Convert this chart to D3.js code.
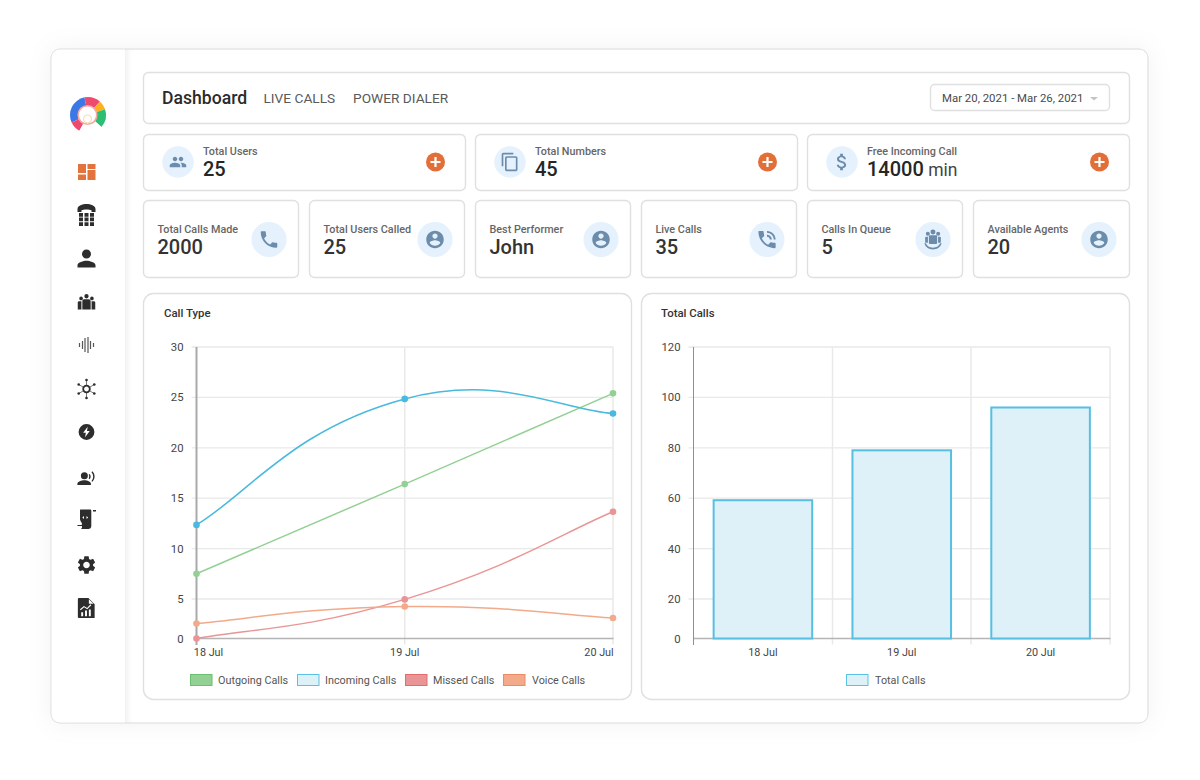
<!DOCTYPE html>
<html><head><meta charset="utf-8">
<script src="https://cdn.jsdelivr.net/npm/d3@7/dist/d3.min.js"></script>
<style>
html,body{margin:0;padding:0;background:#fff}
svg{display:block}
text{font-family:Roboto,sans-serif}
</style></head><body><svg id="c" width="1200" height="780"></svg>
<script>
// ---- data ----
const days = ["18 Jul","19 Jul","20 Jul"];
const outgoing = [7.5,16.4,25.4];
const incoming = [12.35,24.85,23.4];
const missed = [0,4.95,13.65];
const voice = [1.9,4.05,2.6];
const totalCalls = [59.2,79,96];
const leftTicks = [0,5,10,15,20,25,30];
const rightTicks = [0,20,40,60,80,100,120];
const lineNames = ["Outgoing Calls","Incoming Calls","Missed Calls","Voice Calls"];
const topCardLabels = ["Total Users","Total Numbers","Free Incoming Call"];
const topCardValues = ["25","45","14000"];
const smallCardLabels = ["Total Calls Made","Total Users Called","Best Performer","Live Calls","Calls In Queue","Available Agents"];
const smallCardValues = ["2000","25","John","35","5","20"];

const P = {
 people:"M16 11c1.66 0 2.99-1.34 2.99-3S17.66 5 16 5c-1.66 0-3 1.34-3 3s1.34 3 3 3zm-8 0c1.66 0 2.99-1.34 2.99-3S9.66 5 8 5C6.34 5 5 6.34 5 8s1.34 3 3 3zm0 2c-2.33 0-7 1.17-7 3.5V19h14v-2.5c0-2.33-4.67-3.5-7-3.5zm8 0c-.29 0-.62.02-.97.05 1.16.84 1.97 1.97 1.97 3.45V19h6v-2.5c0-2.33-4.67-3.5-7-3.5z",
 copy:"M16 1H4c-1.1 0-2 .9-2 2v14h2V3h12V1zm3 4H8c-1.1 0-2 .9-2 2v14c0 1.1.9 2 2 2h11c1.1 0 2-.9 2-2V7c0-1.1-.9-2-2-2zm0 16H8V7h11v14z",
 money:"M11.8 10.9c-2.27-.59-3-1.2-3-2.15 0-1.09 1.01-1.85 2.7-1.85 1.78 0 2.44.85 2.5 2.1h2.21c-.07-1.72-1.12-3.3-3.21-3.81V3h-3v2.16c-1.94.42-3.5 1.68-3.5 3.61 0 2.31 1.91 3.46 4.7 4.13 2.5.6 3 1.48 3 2.41 0 .69-.49 1.79-2.7 1.79-2.06 0-2.87-.92-2.98-2.1h-2.2c.12 2.19 1.76 3.42 3.68 3.83V21h3v-2.15c1.95-.37 3.5-1.5 3.5-3.55 0-2.84-2.43-3.81-4.7-4.4z",
 phone:"M6.62 10.79c1.44 2.83 3.76 5.14 6.59 6.59l2.2-2.2c.27-.27.67-.36 1.02-.24 1.12.37 2.33.57 3.57.57.55 0 1 .45 1 1V20c0 .55-.45 1-1 1-9.39 0-17-7.61-17-17 0-.55.45-1 1-1h3.5c.55 0 1 .45 1 1 0 1.25.2 2.45.57 3.57.11.35.03.74-.25 1.02l-2.2 2.2z",
 account:"M12 2C6.48 2 2 6.48 2 12s4.48 10 10 10 10-4.48 10-10S17.52 2 12 2zm0 3c1.66 0 3 1.34 3 3s-1.34 3-3 3-3-1.34-3-3 1.34-3 3-3zm0 14.2c-2.5 0-4.71-1.28-6-3.22.03-1.99 4-3.08 6-3.08 1.99 0 5.97 1.09 6 3.08-1.29 1.94-3.5 3.22-6 3.22z",
 talk:"M20 15.5c-1.25 0-2.45-.2-3.57-.57-.35-.11-.74-.03-1.02.24l-2.2 2.2c-2.83-1.44-5.15-3.75-6.59-6.59l2.2-2.21c.28-.26.36-.65.25-1C8.7 6.45 8.5 5.25 8.5 4c0-.55-.45-1-1-1H4c-.55 0-1 .45-1 1 0 9.39 7.61 17 17 17 .55 0 1-.45 1-1v-3.5c0-.55-.45-1-1-1zM19 12h2c0-4.97-4.03-9-9-9v2c3.87 0 7 3.13 7 7zm-4 0h2c0-2.76-2.24-5-5-5v2c1.66 0 3 1.34 3 3z",
 queue:"M12 1.500a2.600 2.600 0 1 1 0 5.200a2.600 2.600 0 1 1 0-5.200zM6.600 4a2.100 2.100 0 1 1 0 4.200a2.100 2.100 0 1 1 0-4.200zM17.400 4a2.100 2.100 0 1 1 0 4.200a2.100 2.100 0 1 1 0-4.200zM9 7.500h6c.8 0 1.300.6 1.300 1.300V15.500c0 .8-.5 1.300-1.300 1.300H9c-.8 0-1.300-.5-1.300-1.300V8.800C7.700 8.100 8.200 7.500 9 7.500zM4.800 9h1.900v6.500H4.800c-.6 0-1-.4-1-1V10c0-.6.4-1 1-1zM17.300 9h1.900c.6 0 1 .4 1 1v4.500c0 .6-.4 1-1 1h-1.900zM3 16h1.700c.8 2.700 3.900 4.500 7.300 4.500s6.500-1.800 7.300-4.500H21c-.8 3.800-4.600 6.500-9 6.500s-8.200-2.700-9-6.500z",
 person:"M12 12c2.21 0 4-1.79 4-4s-1.79-4-4-4-4 1.79-4 4 1.79 4 4 4zm0 2c-2.67 0-8 1.34-8 4v2h16v-2c0-2.66-5.33-4-8-4z",
 gear:"M19.14 12.94c.04-.3.06-.61.06-.94 0-.32-.02-.64-.07-.94l2.03-1.58c.18-.14.23-.41.12-.61l-1.92-3.32c-.12-.22-.37-.29-.59-.22l-2.39.96c-.5-.38-1.03-.7-1.62-.94l-.36-2.54c-.04-.24-.24-.41-.48-.41h-3.84c-.24 0-.43.17-.47.41l-.36 2.54c-.59.24-1.13.57-1.62.94l-2.39-.96c-.22-.08-.47 0-.59.22L2.74 8.87c-.12.21-.08.47.12.61l2.03 1.58c-.05.3-.09.63-.09.94s.02.64.07.94l-2.03 1.58c-.18.14-.23.41-.12.61l1.92 3.32c.12.22.37.29.59.22l2.39-.96c.5.38 1.03.7 1.62.94l.36 2.54c.05.24.24.41.48.41h3.84c.24 0 .44-.17.47-.41l.36-2.54c.59-.24 1.13-.56 1.62-.94l2.39.96c.22.08.47 0 .59-.22l1.92-3.32c.12-.22.07-.47-.12-.61l-2.01-1.58zM12 15.600c-1.98 0-3.600-1.620-3.600-3.600s1.620-3.600 3.600-3.600 3.600 1.620 3.600 3.600-1.620 3.600-3.600 3.600z",
 team:"M12 2.500a2.600 2.600 0 1 1 0 5.200a2.600 2.600 0 1 1 0-5.200zM5.500 5.500a2.200 2.200 0 1 1 0 4.400a2.200 2.200 0 1 1 0-4.400zM18.500 5.500a2.200 2.200 0 1 1 0 4.400a2.200 2.200 0 1 1 0-4.400zM9.300 8.800h5.400c1.300 0 2.300 1 2.300 2.300V21H7V11.100c0-1.300 1-2.300 2.300-2.300zM3.200 11h2.700v10H1.500v-8.300c0-1 .7-1.700 1.700-1.700zM18.100 11h2.700c1 0 1.700.7 1.700 1.700V21h-4.400z",
 phoneKeys:"M3 9V6C3 2.500 8 1 12 1s9 1.500 9 5v3H17V7.200C15 6.200 9 6.200 7 7.200V9zM4.500 10h4v3.700h-4zM10 10h4v3.700h-4zM15.500 10h4v3.700h-4zM4.500 14.600h4v3.700h-4zM10 14.600h4v3.700h-4zM15.500 14.600h4v3.700h-4zM4.500 19.200h4V23h-4zM10 19.200h4V23h-4zM15.500 19.200h4V23h-4z",
 bolt:"M12 2a10 10 0 1 1 0 20a10 10 0 1 1 0-20zM13.500 5.500L7.800 13h3.400l-1 5.500 5.900-7.700h-3.500z",
 voice:"M9 6.500a4 4 0 1 1 0 8a4 4 0 1 1 0-8zM9 15.800c3.200 0 7.500 1.500 7.500 4.200V21H1v-1c0-2.700 4.800-4.200 8-4.200zM15 8.500c1.600 1.700 1.600 4.300 0 6l-1.200-1c.9-1.100.9-2.900 0-4zM18.200 5.500c3.300 3.200 3.300 8.800 0 12l-1.100-1c2.600-2.700 2.600-7.300 0-10z",
 script:"M6 2.500h9.500c.8 0 1.300.5 1.300 1.300V19c0 1.800-1.300 3-3 3H6.500c1-.8 1.300-1.800.8-3H3V18h3.800c.8-.2 1-1.200.2-2.500-.7-1.200-1.500-2-1.500-3.500V4c0-.8 0-1.500.5-1.500zM9.500 9L7.800 10.500 9.500 12zM12 9v3l1.700-1.500zM18.500 3H21.500v1.500h-3z",
 report:"M5 1.500h9.500L21 8v14.500H5c-1 0-1.500-.5-1.500-1.500V3c0-1 .5-1.500 1.500-1.500zM15 2.800V7.600h4.800zM7 20.500h2v-4H7zM11 20.500h2v-6h-2zM15 20.500h2v-7h-2zM6.500 14.300l3.500-3 3.300 2 4.200-4.300-.8-.8-3.600 3.700-3.200-2-4.200 3.500z"
};

// Spline matching the original's curves: a d3 curve factory with softer end tangents
function tensionSpline(context){
  const pts=[];
  return {
    areaStart(){},areaEnd(){},
    lineStart(){pts.length=0;},
    point(x,y){pts.push([x,y]);},
    lineEnd(){
      const t=.5, c=[];
      pts.forEach((p,i)=>{
        const a=pts[Math.max(i-1,0)], b=pts[Math.min(i+1,pts.length-1)];
        const d01=Math.hypot(p[0]-a[0],p[1]-a[1]), d12=Math.hypot(b[0]-p[0],b[1]-p[1]);
        const s=d01+d12, soft=(i===0||i===pts.length-1)?.5:1;
        const fa=soft*t*d01/s, fb=soft*t*d12/s;
        c.push({p:[p[0]-fa*(b[0]-a[0]),p[1]-fa*(b[1]-a[1])],n:[p[0]+fb*(b[0]-a[0]),p[1]+fb*(b[1]-a[1])]});
      });
      context.moveTo(pts[0][0],pts[0][1]);
      for(let i=1;i<pts.length;i++){
        context.bezierCurveTo(c[i-1].n[0],c[i-1].n[1],c[i].p[0],c[i].p[1],pts[i][0],pts[i][1]);
      }
    }
  };
}

const svg = d3.select("#c");
const defs = svg.append("defs");
const f = defs.append("filter").attr("id","glow").attr("x","-10%").attr("y","-10%").attr("width","120%").attr("height","120%");
f.append("feDropShadow").attr("dx",0).attr("dy",0).attr("stdDeviation",12).attr("flood-color","#000").attr("flood-opacity",.05);
const f2 = defs.append("filter").attr("id","side").attr("x","-20%").attr("y","-5%").attr("width","140%").attr("height","110%");
f2.append("feDropShadow").attr("dx",2).attr("dy",0).attr("stdDeviation",3).attr("flood-color","#000").attr("flood-opacity",.07);

// shell
svg.append("rect").attr("x",51).attr("y",49).attr("width",1097).attr("height",674).attr("rx",9)
  .attr("fill","#fff").attr("stroke","#e6e6e6").attr("filter","url(#glow)");
const clip = defs.append("clipPath").attr("id","shell");
clip.append("rect").attr("x",51).attr("y",49).attr("width",1097).attr("height",674).attr("rx",9);
svg.append("g").attr("clip-path","url(#shell)").append("rect").attr("x",40).attr("y",40).attr("width",85).attr("height",700)
  .attr("fill","#fff").attr("filter","url(#side)");
svg.append("rect").attr("x",51).attr("y",49).attr("width",1097).attr("height",674).attr("rx",9)
  .attr("fill","none").attr("stroke","#e4e4e4");

function icon(name,cx,cy,size,fill){
  svg.append("path").attr("d",P[name]).attr("fill",fill).attr("fill-rule","evenodd")
    .attr("transform",`translate(${cx-size/2},${cy-size/2}) scale(${size/24})`);
}
function panel(x0,y0,x1,y1,r){
  svg.append("rect").attr("x",x0+.5).attr("y",y0+.5).attr("width",x1-x0-1).attr("height",y1-y0-1).attr("rx",r)
    .attr("fill","#fff").attr("stroke","#e0e0e0").attr("stroke-width",1.4);
}
function txt(x,y,s,size,fill,weight,anchor){
  return svg.append("text").attr("x",x).attr("y",y).text(s).attr("font-size",size).attr("fill",fill)
    .attr("font-weight",weight||400).attr("text-anchor",anchor||"start");
}

// logo
const logoG = svg.append("g").attr("transform","translate(88,115)");
const logoArc = d3.arc().innerRadius(0).outerRadius(18);
[["#3b78e6",-2.0,-0.2],["#ef4a6e",-0.2,0.72],["#fbb21d",0.72,1.25],["#2cbf73",1.25,2.3],["#ef4a6e",-2.65,-2.0]].forEach(d=>{
  logoG.append("path").attr("d",logoArc({startAngle:d[1],endAngle:d[2]})).attr("fill",d[0]);
});
logoG.append("path").attr("d",d3.arc().innerRadius(0).outerRadius(18.5)({startAngle:2.3,endAngle:3.64})).attr("fill","#fff");
logoG.append("circle").attr("r",9.300).attr("cx",-.5).attr("cy",0).attr("fill","#fff").attr("stroke","#f4a9a4").attr("stroke-width",1.6);
logoG.append("circle").attr("r",4).attr("cx",-.5).attr("cy",4).attr("fill","#fff").attr("stroke","#f6d9a8").attr("stroke-width",1);

// sidebar
const dash = svg.append("g").attr("fill","#e2733c");
[[78,164,8,9],[87.500,164,8,5],[78,174.500,8,5.500],[87.500,170,8,10]].forEach(r=>{
  dash.append("rect").attr("x",r[0]).attr("y",r[1]).attr("width",r[2]).attr("height",r[3]);
});
icon("phoneKeys",86.500,215,24,"#2d2d2d");
icon("person",86.500,258.500,27,"#2d2d2d");
icon("team",86.500,302,20,"#2d2d2d");
// voice wave
[[-7,2],[-4,4],[-1.500,7],[1.500,8],[4,4],[7,2]].forEach(d=>{
  svg.append("line").attr("x1",86.500+d[0]).attr("x2",86.500+d[0]).attr("y1",345-d[1]).attr("y2",345+d[1]).attr("stroke","#555").attr("stroke-width",1.2);
});
// network
const net = svg.append("g").attr("transform","translate(86.500,389)");
d3.range(6).forEach(i=>{
  const a=Math.PI/2+i*Math.PI/3, xx=9*Math.cos(a), yy=9*Math.sin(a);
  net.append("line").attr("x1",0).attr("y1",0).attr("x2",xx).attr("y2",yy).attr("stroke","#555").attr("stroke-width",.8);
  net.append("circle").attr("cx",xx).attr("cy",yy).attr("r",1.300).attr("fill","#2d2d2d");
});
net.append("circle").attr("r",3.300).attr("fill","#fff").attr("stroke","#2d2d2d").attr("stroke-width",1.800);
icon("bolt",86.500,432,19,"#2d2d2d");
icon("voice",87,477,21,"#2d2d2d");
icon("script",86.500,519,24,"#2d2d2d");
icon("gear",86.500,565,22,"#2d2d2d");
icon("report",86,608,23,"#2d2d2d");

// header
panel(143,72,1130,124,5);
txt(162,104,"Dashboard",17.600,"#2b2b2b",500);
txt(263.500,102.500,"LIVE CALLS",13.700,"#5a5a5a",400);
txt(353,102.500,"POWER DIALER",13.700,"#5a5a5a",400);
panel(930,84,1110,111,4);
txt(942,102,"Mar 20, 2021 - Mar 26, 2021",11.400,"#4a4a4a");
svg.append("path").attr("d",d3.line()([[1090,97],[1098,97],[1094,100.500]])+"Z").attr("fill","#c4c4c4");

// top cards
const topIcons = ["people","copy","money"];
[[143,466],[475,798],[807,1130]].forEach((b,i)=>{
  panel(b[0],134,b[1],191,5);
  svg.append("circle").attr("cx",b[0]+35).attr("cy",162).attr("r",15.700).attr("fill","#e5f1fc");
  icon(topIcons[i],b[0]+35,162,i===2?22:(i===1?20:18),"#6b8cab");
  txt(b[0]+60,155,topCardLabels[i],10.800,"#666",500);
  const t=txt(b[0]+60,176,topCardValues[i],20,"#262626",500);
  if(i===2) t.append("tspan").text(" min").attr("font-weight",400).attr("fill","#444").attr("font-size",17.500);
  svg.append("circle").attr("cx",b[1]-30.500).attr("cy",162).attr("r",9.500).attr("fill","#e36f38");
  svg.append("path").attr("d","M-5 0H5M0 -5V5").attr("stroke","#fff").attr("stroke-width",2.200)
    .attr("transform",`translate(${b[1]-30.500},162)`);
});

// small cards
const smallIcons = ["phone","account","account","talk","queue","account"];
const smallSizes = [22,21,21,23,23,21];
[[143,299],[309,465],[475,631],[641,797],[807,963],[973,1130]].forEach((b,i)=>{
  panel(b[0],200,b[1],278,5);
  txt(b[0]+14.500,233,smallCardLabels[i],10.800,"#666",500);
  txt(b[0]+14.500,253.500,smallCardValues[i],20,"#333",500);
  const cx=b[0]+126;
  svg.append("circle").attr("cx",cx).attr("cy",239.500).attr("r",17.500).attr("fill","#e5f1fc");
  icon(smallIcons[i],cx,239.500,smallSizes[i],"#6b8cab");
});

// chart panels
panel(143,293,632,700,10);
panel(641,293,1130,700,10);
txt(164,317,"Call Type",11.400,"#333",500);
txt(661,317,"Total Calls",11.400,"#333",500);

// charts: the lowest interval of both axes is drawn shorter in the original, hence piecewise scales
const yTop=347, yFive=599, yZero=638.500;
const yL = d3.scaleLinear().domain([0,5,30]).range([yZero,yFive,yTop]);
const yR = d3.scaleLinear().domain([0,20,120]).range([yZero,yFive,yTop]);
const xL = d3.scalePoint().domain(days).range([196.500,613]);
const xR = d3.scaleBand().domain(days).range([693.500,1110]).paddingInner(.29).paddingOuter(.145);
const gridC="#e9e9e9", labC="#444";

function frame(x0,x1,y,ticks,vx,axisW,axisC){
  svg.append("g").selectAll("line").data(ticks.slice(1)).join("line")
    .attr("x1",x0-5).attr("x2",x1).attr("y1",d=>y(d)).attr("y2",d=>y(d))
    .attr("stroke",gridC).attr("stroke-width",1.300);
  svg.append("g").selectAll("line").data(vx).join("line")
    .attr("x1",d=>d).attr("x2",d=>d).attr("y1",yTop).attr("y2",yZero+6)
    .attr("stroke",gridC).attr("stroke-width",1.500);
  svg.append("g").selectAll("text").data(ticks).join("text")
    .attr("x",x0-13).attr("y",d=>y(d)+4).attr("text-anchor","end").attr("font-size",11.300).attr("fill",labC).text(d=>d);
  svg.append("line").attr("x1",x0).attr("x2",x1+.5).attr("y1",yZero).attr("y2",yZero).attr("stroke","#b5b5b5").attr("stroke-width",1.300);
  svg.append("line").attr("x1",x0).attr("x2",x0).attr("y1",yTop).attr("y2",yZero+6.500).attr("stroke",axisC).attr("stroke-width",axisW);
}
frame(196.500,613,yL,leftTicks,[xL(days[1]),xL(days[2])],2,"#a9a9a9");
frame(693.500,1110,yR,rightTicks,[832.500,971,1110],1,"#8f8f8f");

// line series
const colors = {
  [lineNames[0]]:["#93d094","#6bbf6e","#93d094"],
  [lineNames[1]]:["#49b9de","#5cc1e2","#ddf1f8"],
  [lineNames[2]]:["#ea9595","#e46c6c","#ea9595"],
  [lineNames[3]]:["#f2aa8b","#ee8b60","#f2aa8b"]
};
const seriesVals = [outgoing,incoming,missed,voice];
const gen = d3.line().curve(tensionSpline);
lineNames.forEach((n,i)=>{
  const pts = seriesVals[i].map((v,j)=>[xL(days[j]),yL(v)]);
  svg.append("path").attr("d",gen(pts)).attr("fill","none").attr("stroke",colors[n][0]).attr("stroke-width",1.500);
  svg.append("g").selectAll("circle").data(pts).join("circle")
    .attr("cx",d=>d[0]).attr("cy",d=>d[1]).attr("r",3.300).attr("fill",colors[n][0]);
});
svg.append("g").selectAll("text").data(days).join("text")
  .attr("x",d=>d===days[0]?xL(d)+12:(d===days[2]?xL(d)-14:xL(d)))
  .attr("y",655.500).attr("text-anchor","middle").attr("font-size",10.800).attr("fill",labC).text(d=>d);

// bars
svg.append("g").selectAll("rect").data(totalCalls).join("rect")
  .attr("x",(d,i)=>xR(days[i])).attr("width",xR.bandwidth())
  .attr("y",d=>yR(d)).attr("height",d=>yZero-yR(d))
  .attr("fill","#dff1f8").attr("stroke","#57bfe2").attr("stroke-width",2);
svg.append("g").selectAll("text").data(days).join("text")
  .attr("x",d=>xR(d)+xR.bandwidth()/2).attr("y",655.500).attr("text-anchor","middle").attr("font-size",10.800).attr("fill",labC).text(d=>d);

// legends
function legendItem(x,name,fill,stroke,tx){
  svg.append("rect").attr("x",x).attr("y",674.500).attr("width",21.500).attr("height",11)
    .attr("fill",fill).attr("stroke",stroke).attr("stroke-width",1);
  txt(tx,684,name,10.800,"#555");
}
legendItem(190.500,lineNames[0],colors[lineNames[0]][2],colors[lineNames[0]][1],218);
legendItem(297.500,lineNames[1],colors[lineNames[1]][2],colors[lineNames[1]][1],325);
legendItem(405.500,lineNames[2],colors[lineNames[2]][2],colors[lineNames[2]][1],433);
legendItem(503.500,lineNames[3],colors[lineNames[3]][2],colors[lineNames[3]][1],532);
legendItem(846.500,"Total Calls","#dff1f8","#5cc1e2",875);
</script></body></html>
